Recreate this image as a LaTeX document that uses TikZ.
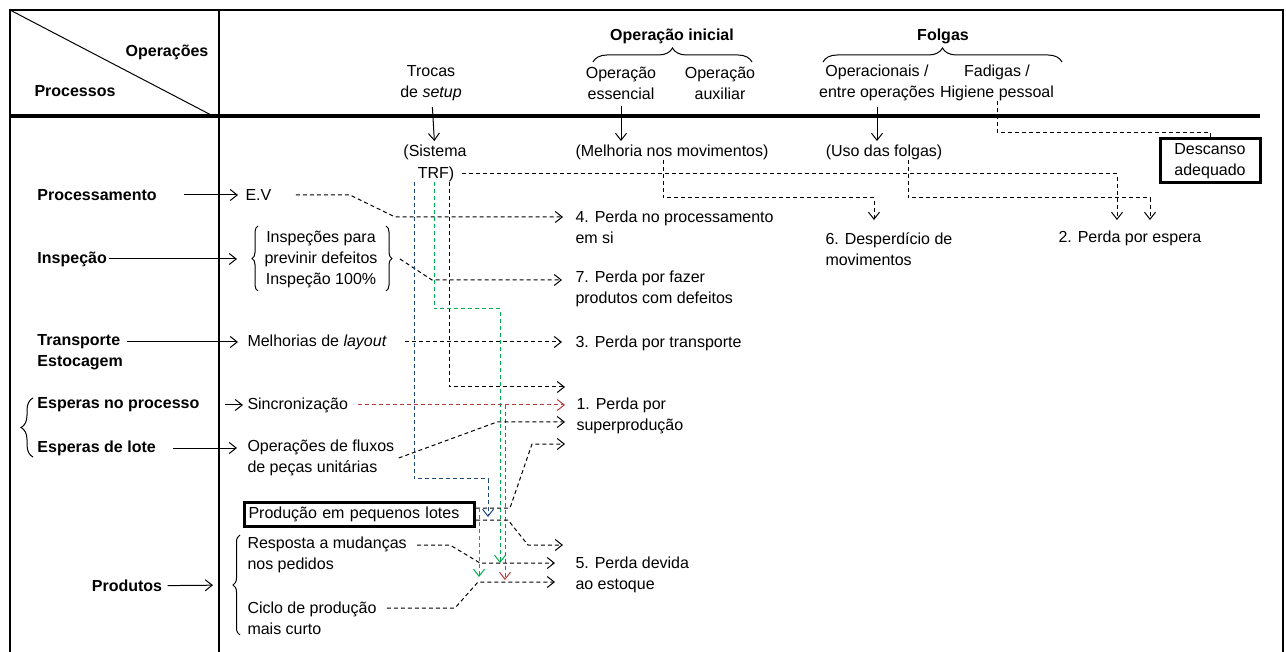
\documentclass[tikz,border=0pt]{standalone}
\usepackage{fontspec}
\setmainfont{Liberation Sans}
\usetikzlibrary{arrows.meta,calc,decorations.pathreplacing,positioning}
\definecolor{trfblue}{RGB}{31,73,125}
\definecolor{trfgreen}{RGB}{0,176,80}
\definecolor{sincred}{RGB}{180,60,60}

\begin{document}
\begin{tikzpicture}[x=1pt,y=-1pt,>={Straight Barb[length=7pt,width=11pt]},line width=1pt]
	\tikzset{every node/.style={inner sep=0pt,font=\fontsize{16}{21}\selectfont},
		hd/.style={font=\fontsize{16}{21}\selectfont\bfseries},
		lft/.style={anchor=west,align=left},
		ctr/.style={align=center},
		box/.style={draw,line width=3pt},
		dashline/.style={dash pattern=on 4pt off 3pt},
		lossarr/.style={->,dashline},
		brc/.style={decorate,decoration={brace,amplitude=#1}}}
	\useasboundingbox (0,0) rectangle (1286,652);
	% frame of the table
	\draw[line width=2pt] (10,652) |- (1283,10) -- (1283,652);
	\draw[line width=4pt] (10,116) -- (1260,116);
	\draw[line width=2pt] (219,10) -- (219,652);
	\draw (10,10) -- (213,116);
	% header
	\node[hd] (ops) at (167,52) {Operações};
	\node[hd] (procs) at (75,91) {Processos};
	\node[ctr] (trocas) at (431,83) {Trocas\\de \textit{setup}};
	\node[hd] (opini) at (672,36) {Operação inicial};
	\node[ctr] (opess) at (621,83) {Operação\\essencial};
	\node[ctr] (opaux) at (720,83) {Operação\\auxiliar};
	\node[hd] (folgas) at (943,36) {Folgas};
	\node[ctr] (opent) at (877,83) {Operacionais /\\entre operações};
	\node[ctr] (fadigas) at (997,83) {Fadigas /\\Higiene pessoal};
	\draw[brc=14] (593,62) -- (752,62);
	\draw[brc=14] (823,62) -- (1062,62);
	% improvements
	\node (trf1) at (435,152) {(Sistema};
	\node (trf2) at (436,174) {TRF)};
	\node (melh) at (672,152) {(Melhoria nos movimentos)};
	\node (uso) at (884,152) {(Uso das folgas)};
	\node[box,ctr,minimum width=100pt,minimum height=44pt] (desc) at (1210,161) {Descanso\\adequado};
	% processes
	\node[hd,lft] (proc) at (37,195) {Processamento};
	\node[hd,lft] (insp) at (37,259) {Inspeção};
	\node[hd,lft] (transp) at (37,352) {Transporte\\Estocagem};
	\node[hd,lft] (espproc) at (37,405) {Esperas no processo};
	\node[hd,lft] (esplote) at (37,448) {Esperas de lote};
	\node[hd] (prod) at (127,586) {Produtos};
	\draw[brc=12] (33,457) -- (33,398);
	% measures
	\node[lft] (ev) at (245,195) {E.V};
	\node[ctr] (inspc) at (321,259) {Inspeções para\\previnir defeitos\\Inspeção 100\%};
	\node[lft] (layout) at (247,342) {Melhorias de \textit{layout}};
	\node[lft] (sinc) at (247,405) {Sincronização};
	\node[lft] (fluxos) at (247,458) {Operações de fluxos\\de peças unitárias};
	\node[box,anchor=west,minimum width=230pt,minimum height=24pt,text width=222pt,align=left,inner xsep=4pt] (lotes) at (243,514) {Produção em pequenos lotes};
	\node[lft] (resp) at (247,555) {Resposta a mudanças\\nos pedidos};
	\node[lft] (ciclo) at (247,618) {Ciclo de produção\\mais curto};
	\draw[brc=6] (258,291) -- (258,226);
	\draw[brc=6] (386,226) -- (386,291);
	\draw[brc=7] (240,635) -- (240,535);
	\coordinate (inspL) at (252,259);
	\coordinate (inspR) at (392,259);
	\coordinate (prodL) at (233,585);
	% losses
	\node[lft] (p4) at (575,227) {4. Perda no processamento\\em si};
	\node[lft] (p7) at (575,289) {7. Perda por fazer\\produtos com defeitos};
	\node[lft] (p3) at (575,343) {3. Perda por transporte};
	\node[lft] (p1) at (576,416) {1. Perda por\\superprodução};
	\node[lft] (p5) at (575,575) {5. Perda devida\\ao estoque};
	\node[lft] (p6) at (825,249) {6. Desperdício de\\movimentos};
	\node[lft] (p2) at (1058,238) {2. Perda por espera};
	\coordinate (t4) at (563,217);
	\coordinate (t7) at (562,280);
	\coordinate (t3) at (562,342);
	\coordinate (t1a) at (565,387);
	\coordinate (t1b) at (565,405);
	\coordinate (t1c) at (565,422);
	\coordinate (t1d) at (565,444);
	\coordinate (t5a) at (563,545);
	\coordinate (t5b) at (555,563);
	\coordinate (t5c) at (555,582);
	\coordinate (t6) at (874,220);
	\coordinate (t2a) at (1117,220);
	\coordinate (t2b) at (1150,220);
	\coordinate (tg1) at (500,563);
	\coordinate (tg2) at (479,577);
	\coordinate (lg) at (479,508);
	\coordinate (tb) at (488,517);
	\coordinate (tr) at (505,580);
	% solid arrows
	\draw[->,shorten <=6pt,shorten >=3pt] (trocas) -- (trf1);
	\draw[->,shorten <=6pt,shorten >=3pt] (opess) -- (opess |- melh.north);
	\draw[->,shorten <=6pt,shorten >=3pt] (opent) -- (opent |- uso.north);
	\draw[->,shorten <=27pt,shorten >=7pt] (proc) -- (ev);
	\draw[->,shorten <=2pt,shorten >=15pt] (insp) -- (inspL);
	\draw[->,shorten <=4pt,shorten >=9pt] (transp.east |- layout.west) -- (layout.west);
	\draw[->,shorten <=25pt,shorten >=4pt] (espproc) -- (sinc);
	\draw[->,shorten <=17pt,shorten >=10pt] (esplote) -- (esplote -| fluxos.west);
	\draw[->,shorten <=5pt,shorten >=20pt] (prod) -- (prodL);
	% dashed connectors
	\draw[lossarr,shorten <=24pt] (ev) -- (350,195) -- (395,217) -- (t4);
	\draw[lossarr] ([xshift=8pt]inspR) -- (432,280) -- (t7);
	\draw[lossarr,shorten <=18pt] (layout) -- (t3);
	\draw[lossarr,shorten <=7pt] (trf2) -- (trf2 -| t2a) -- (t2a);
	\draw[lossarr] ([xshift=-9pt]melh.south) -- (663,198) -| (t6);
	\draw[lossarr] ([xshift=24pt]uso.south) -- (908,198) -| (t2b);
	\draw[dashline] (fadigas.south) -- ++(0,31) -| (desc.north);
	\draw[lossarr] ([xshift=13pt]trf2.south) |- (t1a);
	\draw[lossarr,trfgreen] ([xshift=-2pt]trf2.south) -- ++(0,127) -| (tg1);
	\draw[lossarr,trfblue] ([xshift=-22pt]trf2.south) -- ++(0,297) -| (tb);
	\draw[lossarr,sincred,shorten <=9pt] (sinc) -- (t1b);
	\draw[lossarr,sincred] (tr |- sinc) -- (tr);
	\draw[lossarr] ([xshift=4pt]fluxos.east) -- (497,422) -- (t1c);
	\draw[lossarr] ([yshift=6pt]lotes.east) -- (510,508) -- (532,444) -- (t1d);
	\draw[lossarr] ([yshift=-6pt]lotes.east) -- (508,520) -- (528,545) -- (t5a);
	\draw[lossarr,trfgreen] (lg) -- (tg2);
	\draw[lossarr] ($(resp.east)+(10,-10)$) -- (450,545) -- (480,563) -- (t5b);
	\draw[lossarr] ($(ciclo.east)+(10,-10)$) -- (455,608) -- (478,582) -- (t5c);
\end{tikzpicture}
\end{document}
